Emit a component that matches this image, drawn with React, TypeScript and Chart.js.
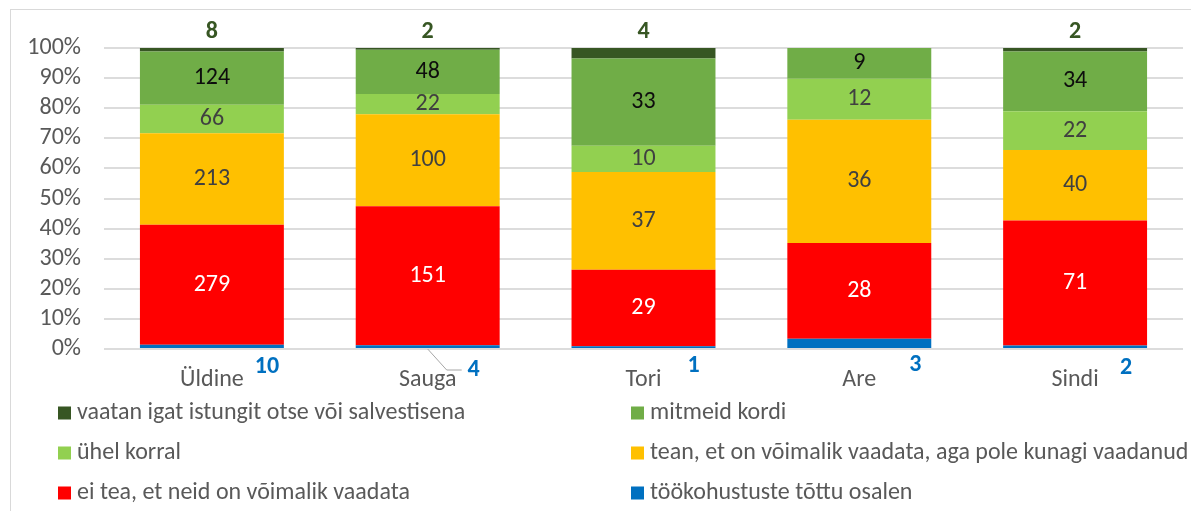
import React, { useEffect, useRef } from "react";
import { Chart, registerables } from "chart.js";

Chart.register(...registerables);

const categories = ["Üldine", "Sauga", "Tori", "Are", "Sindi"];

const seriesNames = [
  "töökohustuste tõttu osalen",
  "ei tea, et neid on võimalik vaadata",
  "tean, et on võimalik vaadata, aga pole kunagi vaadanud",
  "ühel korral",
  "mitmeid kordi",
  "vaatan igat istungit otse või salvestisena",
];

const workDuty = [10, 4, 1, 3, 2];
const dontKnow = [279, 151, 29, 28, 71];
const knowNotWatched = [213, 100, 37, 36, 40];
const once = [66, 22, 10, 12, 22];
const severalTimes = [124, 48, 33, 9, 34];
const everySession = [8, 2, 4, 0, 2];

const seriesColors = ["#0070C0", "#FF0000", "#FFC000", "#92D050", "#70AD47", "#375623"];
const labelColors = ["#0070C0", "#FFFFFF", "#404040", "#404040", "#0D0D0D", "#375623"];

const FONT = "Carlito, Lato, 'Liberation Sans', sans-serif";
const FS = 24;

// manual placement of the small blue labels below the bars (px from bar centre / axis)
const bottomLabelDx = [55, 46, 50, 56, 51];
const bottomLabelDy = [18, 21, 17, 16, 19];

const allSeries = [workDuty, dontKnow, knowNotWatched, once, severalTimes, everySession];

const totals = categories.map((_, j) => allSeries.reduce((s, arr) => s + arr[j], 0));

const labelPlugin = {
  id: "segLabels",
  afterDatasetsDraw(chart: any) {
    const ctx = chart.ctx;
    const area = chart.chartArea;
    ctx.save();
    ctx.textBaseline = "middle";
    ctx.textAlign = "center";
    chart.data.datasets.forEach((ds: any, i: number) => {
      const meta = chart.getDatasetMeta(i);
      meta.data.forEach((bar: any, j: number) => {
        const count = ds.counts[j];
        const { x, y, base } = bar.getProps(["x", "y", "base"], true);
        if (i === 0) {
          ctx.font = `bold ${FS}px ${FONT}`;
          ctx.fillStyle = labelColors[0];
          const ly = area.bottom + bottomLabelDy[j];
          if (j === 1) {
            ctx.strokeStyle = "#A6A6A6";
            ctx.lineWidth = 1;
            ctx.beginPath();
            ctx.moveTo(x, area.bottom);
            ctx.lineTo(x + 19, ly);
            ctx.lineTo(x + 34, ly);
            ctx.stroke();
          }
          ctx.fillText(String(count), x + bottomLabelDx[j], ly);
        } else if (i === 5) {
          if (count > 0) {
            ctx.font = `bold ${FS}px ${FONT}`;
            ctx.fillStyle = labelColors[5];
            ctx.fillText(String(count), x, area.top - 16);
          }
        } else {
          ctx.font = `${FS}px ${FONT}`;
          ctx.fillStyle = labelColors[i];
          ctx.fillText(String(count), x, (y + base) / 2);
        }
      });
    });
    ctx.restore();
  },
};

const legendPlugin = {
  id: "gridLegend",
  afterDraw(chart: any) {
    const ctx = chart.ctx;
    ctx.save();
    ctx.textBaseline = "middle";
    ctx.textAlign = "left";
    ctx.font = `${FS}px ${FONT}`;
    const order = [5, 4, 3, 2, 1, 0];
    const colX = [50, 623];
    const rowY = [405, 445, 485];
    order.forEach((dsIndex, k) => {
      const col = k % 2;
      const row = Math.floor(k / 2);
      const bx = colX[col];
      const cy = rowY[row];
      ctx.fillStyle = seriesColors[dsIndex];
      ctx.fillRect(bx, cy - 6.5, 13, 13);
      ctx.fillStyle = "#595959";
      ctx.fillText(seriesNames[dsIndex], bx + 19, cy);
    });
    ctx.restore();
  },
};

export default function App() {
  const ref = useRef<HTMLCanvasElement | null>(null);

  useEffect(() => {
    if (!ref.current) return;
    const datasets = allSeries.map((arr, i) => ({
      label: seriesNames[i],
      data: arr.map((v, j) => (v / totals[j]) * 100),
      counts: arr,
      backgroundColor: seriesColors[i],
      borderWidth: 0,
      barPercentage: 0.667,
      categoryPercentage: 1,
    }));
    const chart = new Chart(ref.current, {
      type: "bar",
      data: { labels: categories, datasets: datasets as any },
      options: {
        animation: false,
        responsive: false,
        devicePixelRatio: 1,
        layout: { padding: { top: 40, right: 8, bottom: 114, left: 0 } },
        plugins: { legend: { display: false }, tooltip: { enabled: false } },
        scales: {
          x: {
            stacked: true,
            grid: { display: false, drawTicks: false },
            border: { display: false },
            ticks: { color: "#595959", font: { family: FONT, size: FS }, padding: 17 },
            afterFit: (s: any) => {
              s.height = 48;
            },
          },
          y: {
            stacked: true,
            min: 0,
            max: 100,
            border: { display: false },
            grid: { color: "#DCDCDC", lineWidth: 2, drawTicks: false },
            ticks: {
              stepSize: 10,
              autoSkip: false,
              color: "#595959",
              font: { family: FONT, size: FS },
              padding: 23,
              callback: (v: any) => `${v}%`,
            },
            afterFit: (s: any) => {
              s.width = 96;
            },
          },
        },
      },
      plugins: [labelPlugin, legendPlugin],
    });
    return () => chart.destroy();
  }, []);

  return (
    <div style={{ position: "relative", width: 1183, height: 503, overflow: "hidden" }}>
      <div
        style={{
          position: "absolute",
          left: 2,
          top: 1,
          width: 1400,
          height: 700,
          borderLeft: "1px solid #D9D9D9",
          borderTop: "1px solid #D9D9D9",
        }}
      />
      <canvas ref={ref} width={1183} height={503} style={{ position: "absolute", left: 0, top: 0 }} />
    </div>
  );
}
